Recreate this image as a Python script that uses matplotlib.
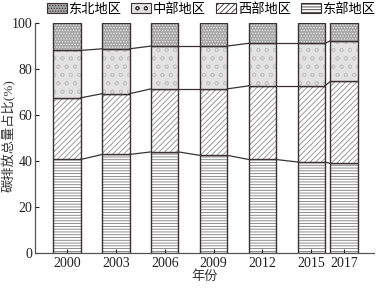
import matplotlib
matplotlib.use("Agg")
import matplotlib.pyplot as plt
import numpy as np
from matplotlib.patches import Patch

plt.rcParams['font.family'] = ['Liberation Serif', 'Noto Sans CJK SC']
plt.rcParams['hatch.linewidth'] = 0.6

years = [2000, 2003, 2006, 2009, 2012, 2015, 2017]
east = [40.7, 42.9, 44.0, 42.5, 40.7, 39.6, 39.0]
west = [26.8, 26.4, 27.4, 28.9, 32.0, 33.1, 35.6]
central = [20.6, 19.5, 18.6, 18.6, 18.5, 18.5, 17.6]
northeast = [100 - e - w - c for e, w, c in zip(east, west, central)]

names = ['东部地区', '西部地区', '中部地区', '东北地区']
series = [east, west, central, northeast]
faces = ['white', 'white', '#e2e2e2', '#a6a6a6']
hatch_cols = ['#7a7a7a', '#8a8a8a', '#c4c4c4', '#ececec']
hatches = ['------', '//////', 'oo', '......']

fig = plt.figure(figsize=(3.77, 2.88), dpi=100)
ax = fig.add_axes([0.093, 0.121, 0.899, 0.799])

w = 1.68
x = np.array(years, dtype=float)
bottom = np.zeros(len(years))
edge = '#3a3232'
for vals, fc, hc, h in zip(series, faces, hatch_cols, hatches):
    vals = np.array(vals)
    ax.bar(x, vals, w, bottom=bottom, color=fc, edgecolor=hc, hatch=h, linewidth=0)
    ax.bar(x, vals, w, bottom=bottom, fill=False, edgecolor=edge, linewidth=1.0)
    bottom = bottom + vals
    # lines joining the tops of neighbouring bars
    if bottom.max() < 99.9:
        for i in range(len(years) - 1):
            ax.plot([x[i] + w / 2, x[i + 1] - w / 2], [bottom[i], bottom[i + 1]],
                    color=edge, linewidth=0.9)

ax.set_xlim(1998.04, 2018.85)
ax.set_ylim(0, 100)
ax.set_xticks(years)
ax.set_xticklabels([str(y) for y in years])
ax.set_yticks([0, 20, 40, 60, 80, 100])
ax.tick_params(direction='in', labelsize=10, length=3, width=0.8, colors='#222222')
ax.tick_params(axis='x', pad=3)
ax.tick_params(axis='y', pad=2)
for s in ['top', 'right']:
    ax.spines[s].set_visible(False)
for s in ['left', 'bottom']:
    ax.spines[s].set_color('#555555')
    ax.spines[s].set_linewidth(0.9)
ax.set_xlabel('年份', fontsize=9.5, labelpad=0, color='#333333')
ax.set_ylabel('碳排放总量占比(%)', fontsize=9.5, color='#333333')
ax.yaxis.set_label_coords(-0.058, 0.513)

order = [3, 2, 1, 0]
handles = [Patch(facecolor=faces[i], edgecolor=edge, hatch=hatches[i], linewidth=0.8) for i in order]
leg = fig.legend(handles, [names[i] for i in order], loc='upper center', ncol=4,
                 bbox_to_anchor=(0.56, 1.03), frameon=False, fontsize=9.5,
                 handlelength=1.5, handleheight=0.8, handletextpad=0.15, columnspacing=0.75)

fig.savefig('out.png', dpi=100)
